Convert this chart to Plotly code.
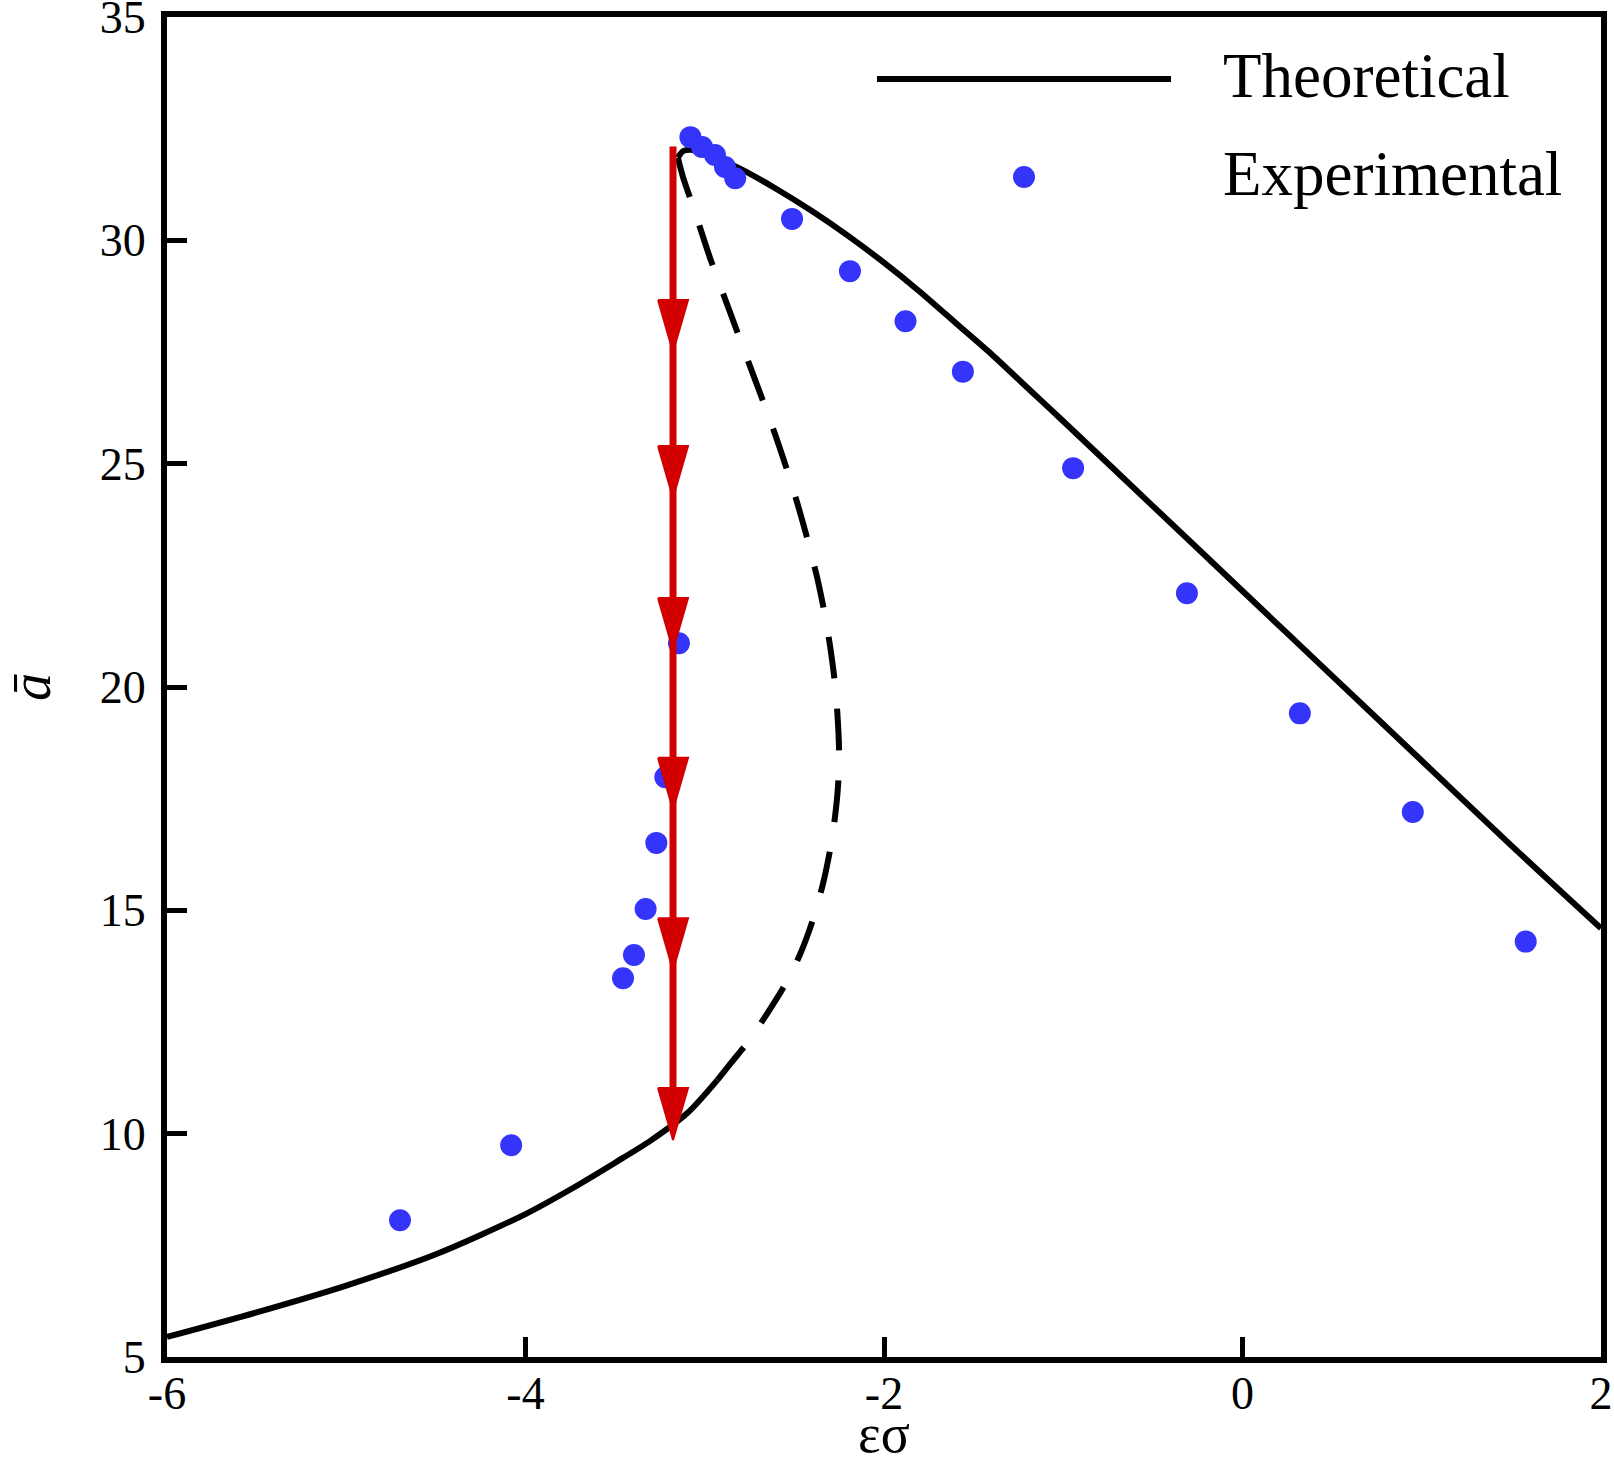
import plotly.graph_objects as go

# ---------------- data ----------------
# Theoretical: lower stable branch
low_x = [-6.0, -5.5, -5.0, -4.5, -4.0, -3.75, -3.5, -3.3, -3.1, -2.93]
low_y = [5.45, 6.0, 6.6, 7.3, 8.2, 8.75, 9.35, 9.85, 10.45, 11.2]
# Theoretical: upper stable branch
up_x = [-3.15, -3.12, -3.08, -3.0, -2.8, -2.6, -2.4, -2.2, -2.0, -1.8, -1.6, -1.4,
        -1.2, -1.0, -0.5, 0.0, 0.5, 1.0, 1.5, 2.0]
up_y = [31.85, 32.0, 32.03, 31.95, 31.6, 31.15, 30.65, 30.1, 29.5, 28.85, 28.15, 27.45,
        26.7, 25.95, 24.05, 22.15, 20.25, 18.35, 16.45, 14.6]
# Theoretical: unstable branch (dashed)
mid_x = [-2.93, -2.85, -2.75, -2.65, -2.55, -2.47, -2.40, -2.34, -2.29, -2.26, -2.25,
         -2.26, -2.28, -2.32, -2.37, -2.44, -2.52, -2.62, -2.74, -2.86, -2.97, -3.06,
         -3.12, -3.15]
mid_y = [11.2, 11.6, 12.1, 12.7, 13.35, 14.0, 14.75, 15.6, 16.6, 17.6, 18.4,
         19.4, 20.3, 21.4, 22.4, 23.5, 24.6, 25.8, 27.1, 28.4, 29.6, 30.7,
         31.4, 31.85]
# Experimental
exp_x = [-4.70, -4.08, -3.456, -3.395, -3.33, -3.27, -3.22, -3.144, -3.08, -3.015, -2.943,
         -2.887, -2.83, -2.513, -2.19, -1.88, -1.56, -0.945, -0.31, 0.32, 0.95, 1.58]
exp_y = [8.06, 9.74, 13.48, 14.0, 15.03, 16.51, 17.98, 20.98, 32.31, 32.09, 31.91,
         31.64, 31.39, 30.48, 29.31, 28.19, 27.06, 24.90, 22.10, 19.41, 17.20, 14.30]
# Jump (red arrows)
jump_x = -3.177
jump_top = 32.1
arrow_tips = [27.50, 24.23, 20.83, 17.25, 13.66, 9.86]

x_ticks = [-6, -4, -2, 0, 2]
y_ticks = [5, 10, 15, 20, 25, 30, 35]
legend_labels = ["Theoretical", "Experimental"]

# ---------------- figure ----------------
FONT = "Liberation Serif, Times New Roman, serif"
W, H = 1614, 1464
ML, MR, MT, MB = 167, 13, 17, 107
XR = [-6, 2]
YR = [5, 35]
PW, PH = W - ML - MR, H - MT - MB
px_per_x = PW / (XR[1] - XR[0])
px_per_y = PH / (YR[1] - YR[0])

BLACK = "#000000"
BLUE = "#3434FA"
RED = "#D20000"

fig = go.Figure()
fig.add_trace(go.Scatter(x=low_x, y=low_y, mode="lines",
                         line=dict(color=BLACK, width=6, shape="spline", smoothing=0.8),
                         showlegend=False))
fig.add_trace(go.Scatter(x=up_x, y=up_y, mode="lines",
                         line=dict(color=BLACK, width=6, shape="spline", smoothing=0.8),
                         showlegend=False))
fig.add_trace(go.Scatter(x=mid_x, y=mid_y, mode="lines",
                         line=dict(color=BLACK, width=6, shape="spline", smoothing=0.8,
                                   dash="42px,30px"),
                         showlegend=False))
fig.add_trace(go.Scatter(x=exp_x, y=exp_y, mode="markers",
                         marker=dict(color=BLUE, size=22, line=dict(width=0)), showlegend=False))

# red jump line
fig.add_trace(go.Scatter(x=[jump_x, jump_x], y=[jump_top, min(arrow_tips) + 0.5], mode="lines",
                         line=dict(color=RED, width=7), showlegend=False))
# arrowheads
head_len = 52 / px_per_y
head_half = 15 / px_per_x
for t in arrow_tips:
    fig.add_trace(go.Scatter(
        x=[jump_x - head_half, jump_x + head_half, jump_x, jump_x - head_half],
        y=[t + head_len, t + head_len, t, t + head_len],
        mode="lines", fill="toself", fillcolor=RED,
        line=dict(color=RED, width=2), showlegend=False, hoverinfo="skip"))

# manual legend (positions given in page pixels)
def px2paper_x(px):
    return (px - ML) / PW

def py2paper_y(py):
    return (H - MB - py) / PH

leg_y1 = py2paper_y(79)
leg_y2 = py2paper_y(177)
fig.add_shape(type="line", xref="paper", yref="paper",
              x0=px2paper_x(877), x1=px2paper_x(1171), y0=leg_y1, y1=leg_y1,
              line=dict(color=BLACK, width=6))
fig.add_shape(type="circle", xref="paper", yref="paper", xsizemode="pixel", ysizemode="pixel",
              xanchor=px2paper_x(1024), yanchor=leg_y2, x0=-11, x1=11, y0=-11, y1=11,
              fillcolor=BLUE, line=dict(width=0))
for lab, yy in zip(legend_labels, [py2paper_y(76), py2paper_y(174)]):
    fig.add_annotation(xref="paper", yref="paper", x=px2paper_x(1221), y=yy, text=lab,
                       showarrow=False, xanchor="left", yanchor="middle",
                       font=dict(family=FONT, size=63, color=BLACK))

axis_common = dict(showline=True, linecolor=BLACK, linewidth=6, mirror=True,
                   ticks="inside", ticklen=20, tickwidth=5, tickcolor=BLACK,
                   showgrid=False, zeroline=False, automargin=False,
                   ticklabeloverflow="allow",
                   tickfont=dict(family=FONT, size=46, color=BLACK))

fig.update_layout(
    width=W, height=H,
    margin=dict(l=ML, r=MR, t=MT, b=MB, autoexpand=False),
    paper_bgcolor="white", plot_bgcolor="white",
    xaxis=dict(range=XR, tickvals=x_ticks, ticktext=[str(v) for v in x_ticks],
               title=dict(text="εσ", font=dict(family=FONT, size=54, color=BLACK), standoff=22),
               ticklabelstandoff=-9, **axis_common),
    yaxis=dict(range=YR, tickvals=y_ticks, ticktext=[str(v) for v in y_ticks],
               title=dict(text="<i>ā</i>", font=dict(family=FONT, size=56, color=BLACK), standoff=48),
               ticklabelstandoff=6, **axis_common),
    showlegend=False,
)

fig.write_html(
    "out.html",
    config={"displayModeBar": False},
    post_script=("document.documentElement.style.margin='0';document.body.style.margin='0';"
                 "document.documentElement.style.overflow='hidden';document.body.style.overflow='hidden';"),
)
